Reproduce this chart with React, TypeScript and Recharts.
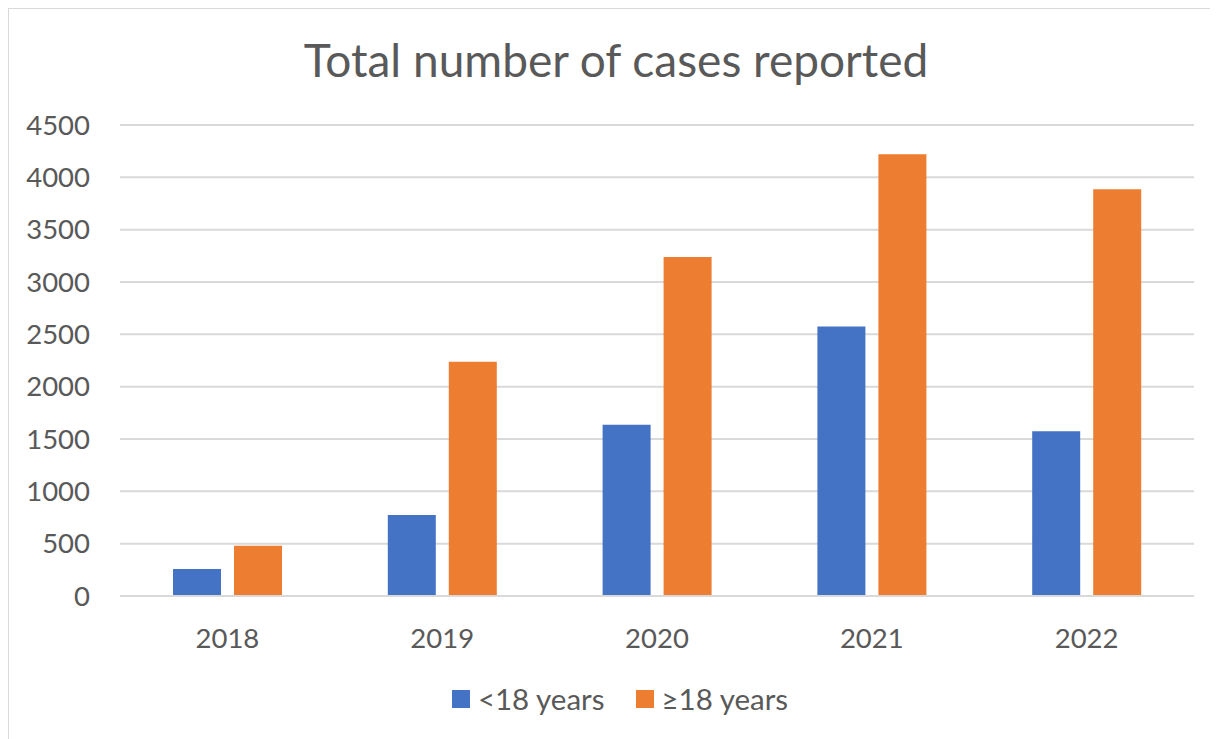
import React from "react";
import { BarChart, Bar, XAxis, YAxis, CartesianGrid, Legend } from "recharts";

const years = ["2018", "2019", "2020", "2021", "2022"];
const under18 = [258, 773, 1636, 2574, 1575];
const over18 = [480, 2237, 3240, 4220, 3886];
const yTicks = [0, 500, 1000, 1500, 2000, 2500, 3000, 3500, 4000, 4500];
const seriesNames = ["<18 years", "≥18 years"];
const colors = ["#4472C4", "#ED7D31"];
const title = "Total number of cases reported";

const data = years.map((y, i) => ({ year: y, a: under18[i], b: over18[i] }));

const FONT = "Lato, 'Open Sans', sans-serif";
const TEXT = "#595959";

const LegendContent = (props: any) => {
  const payload = props.payload || [];
  return (
    <div style={{ display: "flex", justifyContent: "center", alignItems: "center", fontFamily: FONT, fontSize: 29.5, color: TEXT, paddingLeft: 6 }}>
      {payload.map((p: any, i: number) => (
        <div key={i} style={{ display: "flex", alignItems: "center", marginRight: i === 0 ? 31 : 0 }}>
          <span style={{ display: "inline-block", width: 18, height: 18, background: p.color, marginRight: 8 }} />
          <span>{p.value}</span>
        </div>
      ))}
    </div>
  );
};

export default function App() {
  return (
    <div style={{ position: "relative", width: 1210, height: 731, borderTop: "1px solid #D9D9D9", borderLeft: "1px solid #D9D9D9", boxSizing: "border-box", background: "#fff" }}>
      <div style={{ position: "absolute", top: 23, left: 2, width: 1210, textAlign: "center", fontFamily: FONT, fontSize: 46, color: TEXT, lineHeight: "56px" }}>
        {title}
      </div>
      <BarChart
        width={1209}
        height={730}
        data={data}
        margin={{ top: 116, right: 24, bottom: 10, left: 31 }}
        barSize={48}
        barGap={13}
      >
        <CartesianGrid vertical={false} stroke="#D9D9D9" strokeWidth={2} />
        <XAxis
          dataKey="year"
          axisLine={{ stroke: "#D9D9D9", strokeWidth: 2 }}
          tickLine={false}
          tickSize={0}
          tickMargin={32}
          height={85}
          tick={{ fill: TEXT, fontSize: 27.5, fontFamily: FONT }}
        />
        <YAxis
          domain={[0, 4500]}
          ticks={yTicks}
          width={80}
          axisLine={false}
          tickLine={false}
          tickSize={0}
          tickMargin={30}
          tick={{ fill: TEXT, fontSize: 27.5, fontFamily: FONT }}
          interval={0}
        />
        <Legend verticalAlign="bottom" height={48} content={<LegendContent />} />
        <Bar dataKey="a" name={seriesNames[0]} fill={colors[0]} isAnimationActive={false} />
        <Bar dataKey="b" name={seriesNames[1]} fill={colors[1]} isAnimationActive={false} />
      </BarChart>
    </div>
  );
}
